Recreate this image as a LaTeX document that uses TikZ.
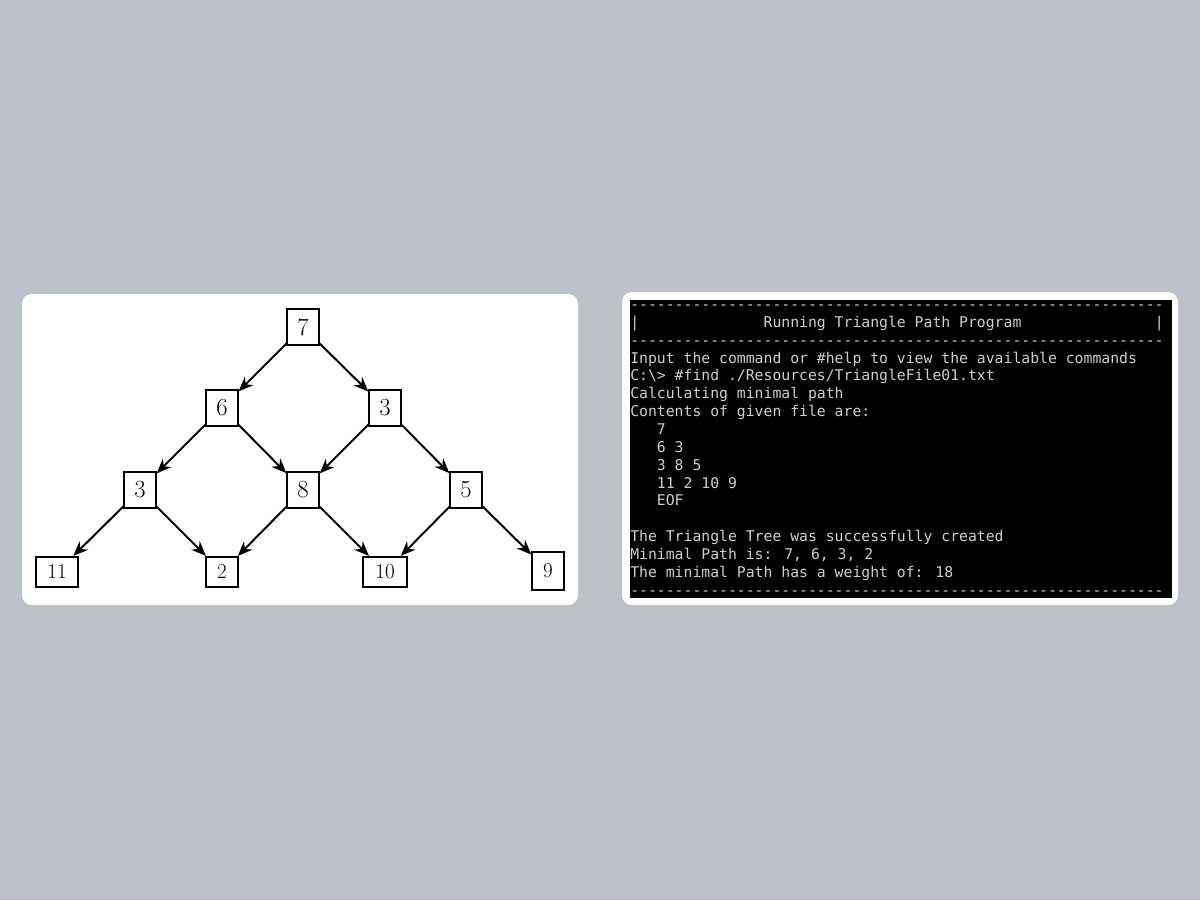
\documentclass[tikz,border=0pt]{standalone}
\usepackage{fontspec}
\usetikzlibrary{arrows.meta}
\newfontfamily\termfont{DejaVu Sans Mono}
\definecolor{bgc}{RGB}{188,192,201}
\definecolor{termtxt}{RGB}{206,206,206}
\newcommand{\dashrow}{\foreach \k in {1,...,60}{-\kern0pt}}
\tikzset{
	box/.style={draw, line width=1.5pt, inner sep=0pt, minimum width=0.78cm, minimum height=0.9cm, font=\fontsize{17.5}{20}\selectfont},
	leaf/.style={box, minimum height=0.75cm, font=\fontsize{15}{18}\selectfont},
	edge/.style={line width=1.4pt, -{Stealth[length=10.5pt,width=8.5pt]}},
	termline/.style={anchor=base west, inner sep=0pt, text=termtxt, font=\termfont\fontsize{10.5}{12.7}\selectfont}
}

\begin{document}
\begin{tikzpicture}[x=0.025cm, y=-0.025cm]
	% 1200 x 900 px canvas
	\fill[bgc] (0,0) rectangle (1200,900);
	\useasboundingbox (0,0) rectangle (1200,900);
	% panels
	\fill[white, rounded corners=7] (22,294) rectangle (578,605);
	\fill[white, rounded corners=7] (622,292) rectangle (1178,605);
	\fill[black] (630,300) rectangle (1172,598);
	
	% triangle tree
	\node[box] (n7) at (303,327) {7};
	\node[box] (n6) at (222,408) {6};
	\node[box] (n3a) at (385,408) {3};
	\node[box] (n3b) at (140,490) {3};
	\node[box] (n8) at (303,490) {8};
	\node[box] (n5) at (466,490) {5};
	\node[leaf, minimum width=1.05cm] (n11) at (57,572) {11};
	\node[leaf] (n2) at (222,572) {2};
	\node[leaf, minimum width=1.1cm] (n10) at (385,572) {10};
	\node[leaf, minimum height=0.95cm] (n9) at (548,571) {9};
	
	\draw[edge] (n7) -- (n6);
	\draw[edge] (n7) -- (n3a);
	\draw[edge] (n6) -- (n3b);
	\draw[edge] (n6) -- (n8);
	\draw[edge] (n3a) -- (n8);
	\draw[edge] (n3a) -- (n5);
	\draw[edge] (n3b) -- (n11);
	\draw[edge] (n3b) -- (n2);
	\draw[edge] (n8) -- (n2);
	\draw[edge] (n8) -- (n10);
	\draw[edge] (n5) -- (n10);
	\draw[edge] (n5) -- (n9);
	
	% console output
	\foreach \txt [count=\i] in {
		{\dashrow},
		{|\phantom{00000000000000}Running Triangle Path Program\phantom{000000000000000}|},
		{\dashrow},
		{Input the command or \#help to view the available commands},
		{C:\textbackslash> \#find ./Resources/TriangleFile01.txt},
		{Calculating minimal path},
		{Contents of given file are:},
		{\phantom{000}7},
		{\phantom{000}6 3},
		{\phantom{000}3 8 5},
		{\phantom{000}11 2 10 9},
		{\phantom{000}EOF},
		{},
		{The Triangle Tree was successfully created},
		{Minimal Path is: 7, 6, 3, 2},
		{The minimal Path has a weight of: 18},
		{\dashrow}}
		\node[termline] (line\i) at (630,{309.5+17.85*(\i-1)}) {\txt};
\end{tikzpicture}
\end{document}
